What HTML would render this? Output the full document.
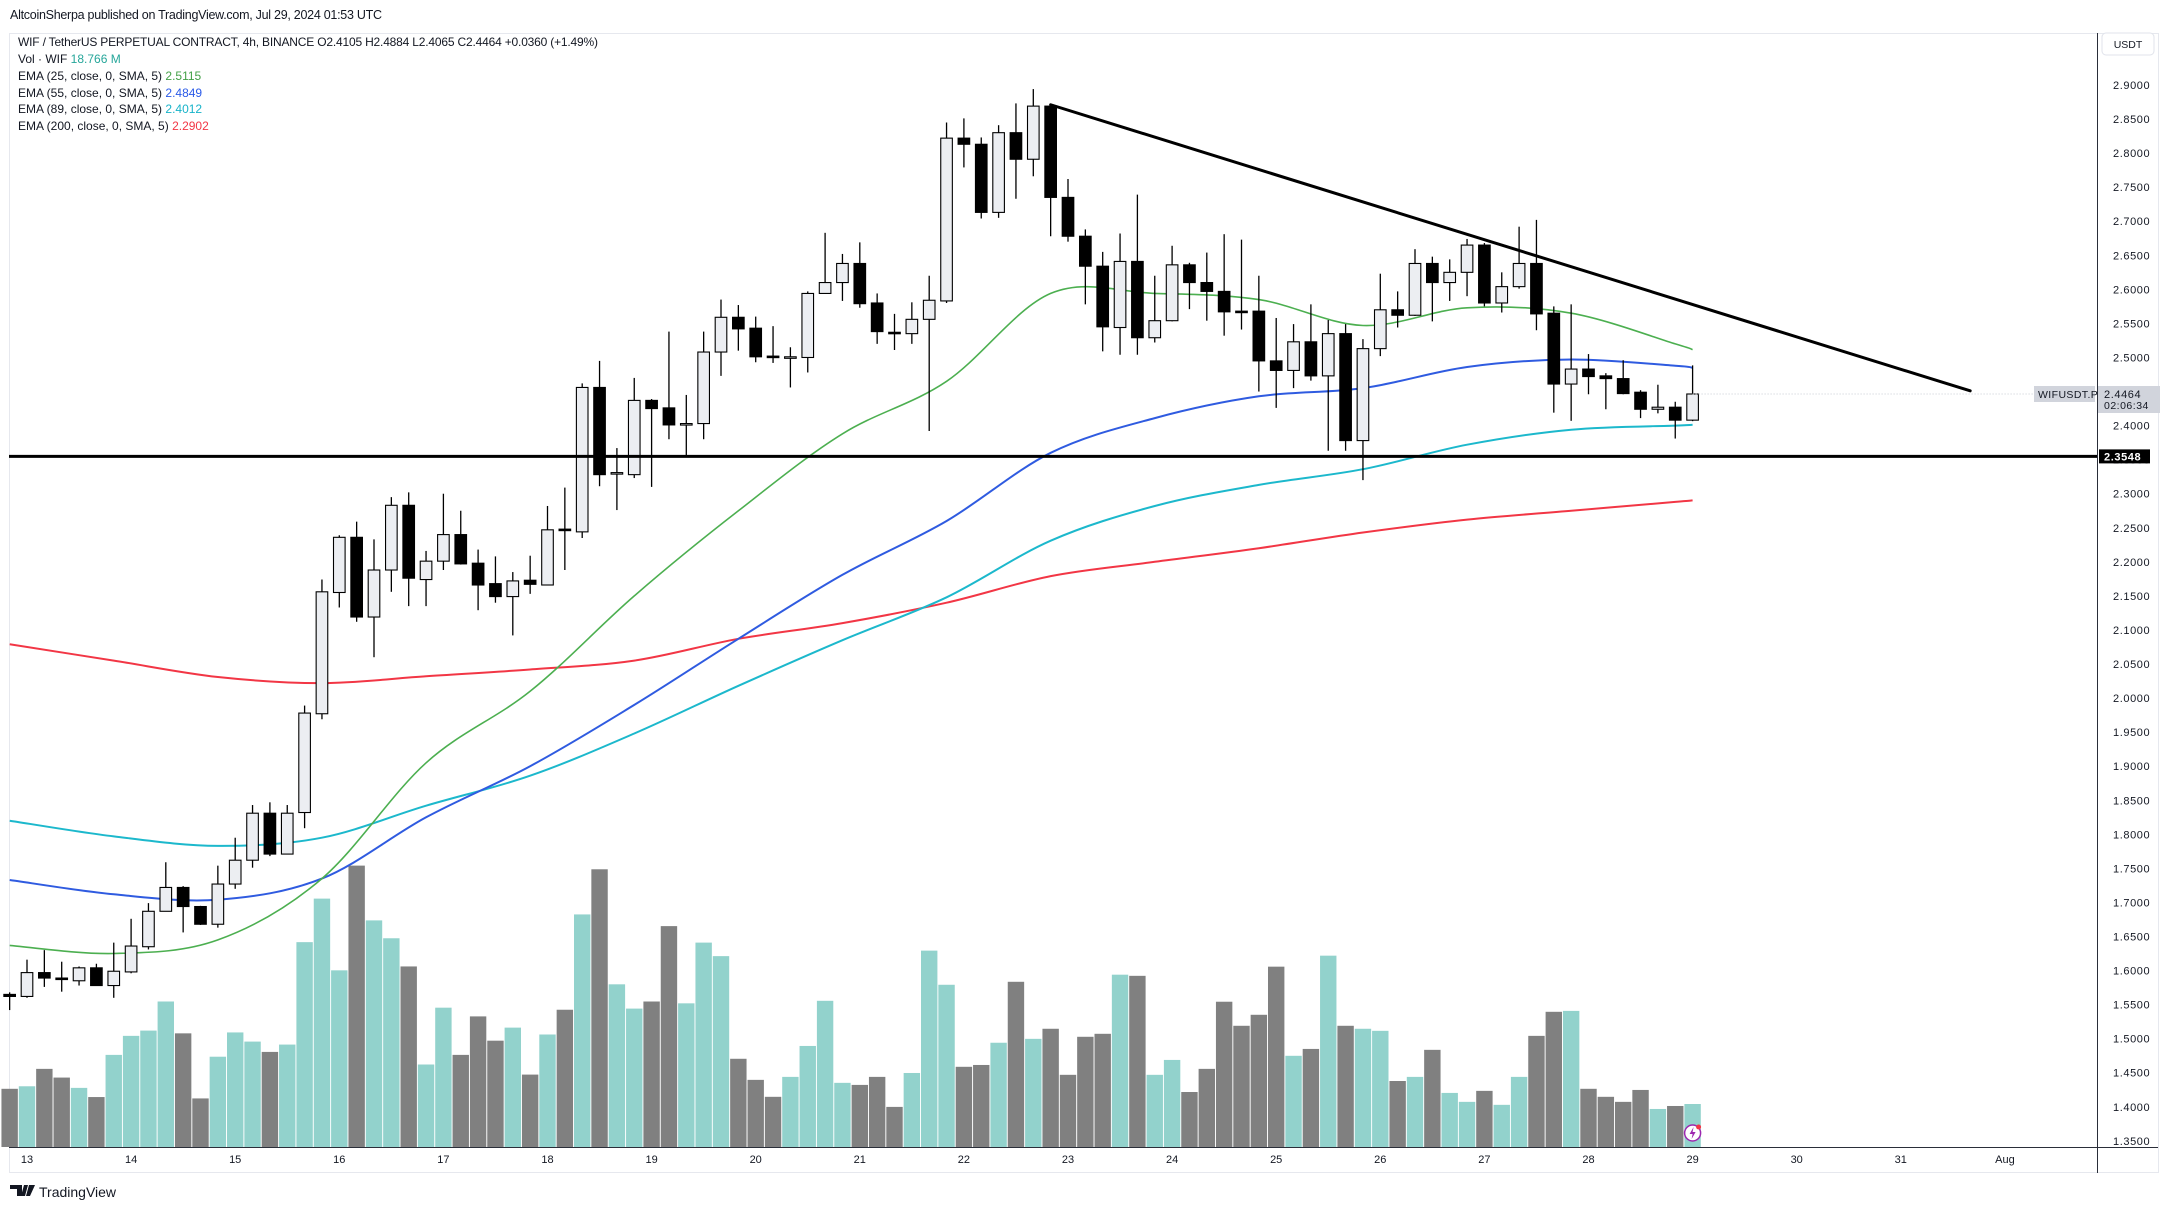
<!DOCTYPE html>
<html><head><meta charset="utf-8"><style>
html,body{margin:0;padding:0;background:#fff;}
svg{display:block;font-family:"Liberation Sans",sans-serif;}
</style></head><body>
<svg id="chart" width="2169" height="1209" viewBox="0 0 2169 1209" xmlns="http://www.w3.org/2000/svg">
<rect x="0" y="0" width="2169" height="1209" fill="#ffffff"/>
<text x="10" y="19" font-size="12.5" fill="#131722" textLength="372">AltcoinSherpa published on TradingView.com, Jul 29, 2024 01:53 UTC</text>
<rect x="9.5" y="33.5" width="2149" height="1139" fill="none" stroke="#e6e8ee" stroke-width="1"/>
<g id="legend" font-size="12" fill="#131722">
<text x="18" y="46" textLength="580">WIF / TetherUS PERPETUAL CONTRACT, 4h, BINANCE  O2.4105  H2.4884  L2.4065  C2.4464  +0.0360 (+1.49%)</text>
<text x="18" y="63">Vol · WIF  <tspan fill="#26a69a">18.766 M</tspan></text>
<text x="18" y="80">EMA (25, close, 0, SMA, 5)  <tspan fill="#43a047">2.5115</tspan></text>
<text x="18" y="97">EMA (55, close, 0, SMA, 5)  <tspan fill="#2a5ae8">2.4849</tspan></text>
<text x="18" y="113">EMA (89, close, 0, SMA, 5)  <tspan fill="#17b3c9">2.4012</tspan></text>
<text x="18" y="130">EMA (200, close, 0, SMA, 5)  <tspan fill="#f23645">2.2902</tspan></text>
</g>
<g id="vol"></g><g id="emas"></g><g id="candles"></g><g id="draw"></g><g id="axes"></g>
<g>
<path d="M10 1185 h12 v11 h-5 v-7 h-7z M24 1185 h4 l-3 11 h-4z M29 1185 h6 l-5 11 h-4z" fill="#131722"/>
<text x="39" y="1197" font-size="14" fill="#131722">TradingView</text>
</g>
</svg>
<script>
const opens=[1.565,1.562,1.597,1.589,1.585,1.604,1.578,1.598,1.635,1.687,1.722,1.694,1.668,1.727,1.762,1.831,1.771,1.832,1.977,2.155,2.236,2.119,2.188,2.283,2.174,2.201,2.240,2.198,2.168,2.149,2.173,2.166,2.248,2.244,2.456,2.330,2.328,2.437,2.426,2.402,2.403,2.508,2.559,2.543,2.502,2.500,2.500,2.594,2.610,2.638,2.580,2.537,2.535,2.556,2.583,2.822,2.813,2.713,2.830,2.791,2.869,2.735,2.678,2.634,2.544,2.641,2.529,2.554,2.636,2.610,2.597,2.568,2.568,2.495,2.481,2.523,2.473,2.535,2.378,2.513,2.570,2.562,2.638,2.610,2.625,2.665,2.580,2.604,2.638,2.565,2.461,2.483,2.473,2.469,2.449,2.424,2.427,2.408];
const highs=[1.568,1.616,1.630,1.613,1.606,1.610,1.641,1.676,1.699,1.759,1.724,1.695,1.754,1.795,1.843,1.847,1.843,1.989,2.174,2.239,2.259,2.233,2.295,2.302,2.216,2.300,2.275,2.218,2.208,2.185,2.209,2.282,2.309,2.462,2.495,2.367,2.470,2.439,2.538,2.445,2.538,2.585,2.577,2.560,2.546,2.515,2.597,2.683,2.652,2.669,2.594,2.564,2.581,2.620,2.845,2.851,2.823,2.841,2.873,2.894,2.872,2.762,2.688,2.655,2.682,2.739,2.620,2.664,2.639,2.654,2.681,2.673,2.620,2.558,2.549,2.578,2.555,2.549,2.527,2.623,2.597,2.659,2.648,2.644,2.674,2.668,2.625,2.692,2.702,2.575,2.578,2.505,2.477,2.496,2.452,2.460,2.435,2.4884];
const lows=[1.542,1.560,1.576,1.569,1.578,1.578,1.560,1.596,1.631,1.687,1.656,1.667,1.663,1.720,1.751,1.768,1.771,1.809,1.969,2.133,2.112,2.060,2.156,2.135,2.135,2.188,2.196,2.129,2.140,2.092,2.153,2.166,2.188,2.235,2.311,2.276,2.323,2.310,2.380,2.354,2.380,2.473,2.510,2.493,2.492,2.456,2.478,2.594,2.583,2.573,2.520,2.511,2.520,2.392,2.580,2.779,2.704,2.705,2.733,2.766,2.678,2.670,2.578,2.509,2.504,2.504,2.522,2.553,2.571,2.554,2.532,2.541,2.450,2.426,2.455,2.466,2.363,2.363,2.320,2.502,2.544,2.561,2.553,2.583,2.590,2.575,2.566,2.601,2.540,2.419,2.407,2.446,2.424,2.446,2.411,2.418,2.381,2.4065];
const closes=[1.562,1.597,1.589,1.588,1.604,1.578,1.599,1.636,1.687,1.722,1.694,1.668,1.727,1.762,1.831,1.771,1.831,1.978,2.156,2.236,2.119,2.188,2.283,2.176,2.201,2.240,2.197,2.166,2.149,2.172,2.167,2.247,2.246,2.456,2.328,2.331,2.437,2.425,2.401,2.403,2.508,2.559,2.542,2.501,2.500,2.501,2.594,2.610,2.638,2.579,2.538,2.536,2.556,2.584,2.822,2.813,2.713,2.830,2.791,2.869,2.735,2.678,2.634,2.545,2.641,2.529,2.554,2.636,2.610,2.597,2.567,2.567,2.495,2.481,2.523,2.473,2.535,2.378,2.513,2.570,2.562,2.638,2.610,2.625,2.665,2.580,2.604,2.638,2.564,2.461,2.483,2.472,2.469,2.447,2.424,2.427,2.408,2.4464];
const volumes=[25.4,26.5,34.1,30.3,25.8,21.8,40.2,48.5,50.8,63.5,49.6,21.2,39.4,50.0,46.0,41.5,44.7,89.4,108.4,77.1,122.8,98.9,91.1,78.8,36.0,60.8,40.2,57.0,46.4,52.1,31.6,49.1,59.9,101.5,121.2,71.0,60.4,63.5,96.4,62.7,89.2,83.3,38.5,29.3,21.9,30.6,44.1,63.8,28.0,27.1,30.6,17.5,32.3,85.7,70.8,35.0,35.8,45.5,72.1,47.2,51.6,31.5,48.1,49.4,75.2,74.7,31.5,38.0,24.0,34.1,63.4,52.9,57.7,78.7,39.8,42.8,83.5,52.9,51.6,50.7,28.8,30.6,42.4,23.6,19.7,24.5,18.4,30.6,48.5,59.0,59.4,25.4,21.9,19.7,24.9,16.6,17.9,18.766];
const emaIdx=[0,6,12,18,24,30,36,42,48,54,60,66,72,78,84,90,96,97];
const ema25=[1.637,1.625,1.645,1.735,1.905,2.010,2.150,2.275,2.388,2.465,2.594,2.594,2.585,2.547,2.573,2.565,2.520,2.5115];
const ema55=[1.733,1.712,1.704,1.735,1.825,1.900,1.990,2.087,2.181,2.260,2.360,2.411,2.443,2.455,2.486,2.497,2.488,2.4849];
const ema89=[1.820,1.797,1.783,1.795,1.842,1.886,1.948,2.018,2.085,2.148,2.231,2.282,2.313,2.336,2.372,2.394,2.400,2.4012];
const ema200=[2.079,2.055,2.031,2.022,2.032,2.042,2.055,2.087,2.110,2.140,2.179,2.200,2.220,2.243,2.262,2.275,2.288,2.2902];
const priceTicks=[2.90,2.85,2.80,2.75,2.70,2.65,2.60,2.55,2.50,2.45,2.40,2.35,2.30,2.25,2.20,2.15,2.10,2.05,2.00,1.95,1.90,1.85,1.80,1.75,1.70,1.65,1.60,1.55,1.50,1.45,1.40,1.35];
const dateLabels=["13","14","15","16","17","18","19","20","21","22","23","24","25","26","27","28","29","30","31","Aug"];
const trendIdx=[60,113];
const trendPrice=[2.871,2.451];
const supportPrice=2.3548;
const lastPrice=2.4464;

const NS="http://www.w3.org/2000/svg";
function xOf(i){return 9.65+i*17.35;}
function yOf(p){return 85+(2.9-p)/0.05*34.06;}
const VOL_BASE=1147, VOL_SCALE=43/18.766;
function hOfVol(v){return v*VOL_SCALE;}
function mk(tag,attrs,parent){const e=document.createElementNS(NS,tag);for(const k in attrs)e.setAttribute(k,attrs[k]);parent.appendChild(e);return e;}
function smoothPath(pts){
  let d='M'+pts[0][0].toFixed(1)+','+pts[0][1].toFixed(1);
  for(let i=0;i<pts.length-1;i++){
    const p0=pts[Math.max(i-1,0)],p1=pts[i],p2=pts[i+1],p3=pts[Math.min(i+2,pts.length-1)];
    const c1x=p1[0]+(p2[0]-p0[0])/6,c1y=p1[1]+(p2[1]-p0[1])/6;
    const c2x=p2[0]-(p3[0]-p1[0])/6,c2y=p2[1]-(p3[1]-p1[1])/6;
    d+=' C'+c1x.toFixed(1)+','+c1y.toFixed(1)+' '+c2x.toFixed(1)+','+c2y.toFixed(1)+' '+p2[0].toFixed(1)+','+p2[1].toFixed(1);
  }
  return d;
}

const vol=document.getElementById('vol');
volumes.forEach((v,i)=>{
  const up=closes[i]>=opens[i];
  const h=hOfVol(v);
  const r=mk('rect',{x:xOf(i)-8.2,y:VOL_BASE-h,width:16.4,height:h,fill:up?'#92d2cc':'#808080'},vol);
  
  
});

const emaG=document.getElementById('emas');
[[ema200,'#f23645','ema200-line'],[ema89,'#1cb8cc','ema89-line'],[ema55,'#2f5be0','ema55-line'],[ema25,'#4caf50','ema25-line']].forEach(s=>{
  const pts=s[0].map((v,j)=>[xOf(emaIdx[j]),yOf(v)]);
  const pl=mk('path',{d:smoothPath(pts),fill:'none',stroke:s[1],'stroke-width':s[2]==='ema25-line'?1.6:2,'stroke-linejoin':'round'},emaG);
  
  
});

const cg=document.getElementById('candles');
opens.forEach((o,i)=>{
  const c=closes[i],x=xOf(i);
  const up=c>=o;
  const g=mk('g',{},cg);
  
  
  mk('line',{x1:x,x2:x,y1:yOf(highs[i]),y2:yOf(lows[i]),stroke:'#000','stroke-width':1.3},g);
  const top=yOf(Math.max(o,c)),bot=yOf(Math.min(o,c));
  mk('rect',{x:x-5.8,y:top,width:11.6,height:Math.max(bot-top,1.5),fill:up?'#eceef2':'#000',stroke:'#000','stroke-width':1.1},g);
});

const dr=document.getElementById('draw');
const sl=mk('line',{x1:9,x2:2097,y1:yOf(supportPrice),y2:yOf(supportPrice),stroke:'#000','stroke-width':3},dr);


const tl=mk('line',{x1:xOf(trendIdx[0]),y1:yOf(trendPrice[0]),x2:xOf(trendIdx[1]),y2:yOf(trendPrice[1]),stroke:'#000','stroke-width':3,'stroke-linecap':'round'},dr);


const lp=mk('line',{x1:xOf(97),x2:2097,y1:yOf(lastPrice),y2:yOf(lastPrice),stroke:'#c8cbd3','stroke-width':1,'stroke-dasharray':'1 2'},dr);


const ic=mk('circle',{cx:xOf(97),cy:1133,r:8,fill:'#fff',stroke:'#9c27b0','stroke-width':1.5},dr);


const ip=mk('path',{d:'M'+(xOf(97)+1)+',1127 l-4,7 h3 l-1,5 l4,-7 h-3z',fill:'#9c27b0'},dr);


const idot=mk('circle',{cx:xOf(97)+6,cy:1127,r:2.5,fill:'#f23645'},dr);



const ax=document.getElementById('axes');
const bg=mk('rect',{x:2098,y:34,width:60,height:1138,fill:'#fff'},ax);


const va=mk('line',{x1:2097.5,x2:2097.5,y1:33,y2:1173,stroke:'#2a2e39','stroke-width':1},ax);


const ha=mk('line',{x1:9,x2:2158,y1:1147.5,y2:1147.5,stroke:'#2a2e39','stroke-width':1},ax);


const ub=mk('rect',{x:2102,y:33,width:52,height:22,rx:4,fill:'#fff',stroke:'#e0e3eb'},ax);


const ut=mk('text',{x:2128,y:48,'font-size':10.5,'text-anchor':'middle',fill:'#131722'},ax);
ut.textContent='USDT';


priceTicks.forEach(p=>{
  const t=mk('text',{x:2113,y:yOf(p)+4,'font-size':11,fill:'#131722','letter-spacing':'0.6'},ax);
  t.textContent=p.toFixed(4);
  
  
});
dateLabels.forEach((d,j)=>{
  const t=mk('text',{x:xOf(1+j*6),y:1163,'font-size':11,'text-anchor':'middle',fill:'#131722'},ax);
  t.textContent=d;
  
  
});
const sb=mk('rect',{x:2099,y:yOf(supportPrice)-7,width:51,height:14,fill:'#000'},ax);


const st=mk('text',{x:2104,y:yOf(supportPrice)+4,'font-size':11,'font-weight':'bold',fill:'#fff','letter-spacing':'0.6'},ax);
st.textContent=supportPrice.toFixed(4);


const yl=yOf(lastPrice);
const sym=mk('rect',{x:2034,y:yl-8,width:61,height:16,fill:'#d1d4dc'},ax);


const symt=mk('text',{x:2038,y:yl+4,'font-size':10.5,fill:'#131722','letter-spacing':'0.4'},ax);
symt.textContent='WIFUSDT.P';


const lb=mk('rect',{x:2098,y:yl-8,width:62,height:27,fill:'#d1d4dc'},ax);


const lt=mk('text',{x:2104,y:yl+4,'font-size':11,fill:'#131722','letter-spacing':'0.6'},ax);
lt.textContent=lastPrice.toFixed(4);


const ct=mk('text',{x:2104,y:yl+15,'font-size':10.5,fill:'#131722','letter-spacing':'0.5'},ax);
ct.textContent='02:06:34';


</script>
</body></html>
